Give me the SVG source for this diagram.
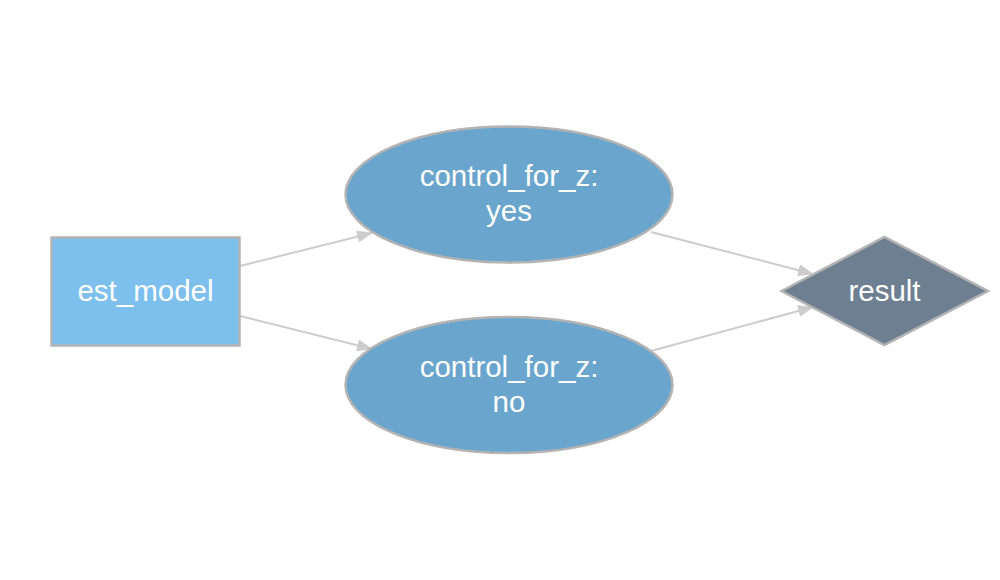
<svg xmlns="http://www.w3.org/2000/svg" width="1000" height="580" viewBox="0 0 1000 580">
<style>
.lbl{font-family:"Liberation Sans",Arial,Helvetica,sans-serif;font-size:29.5px;fill:#ffffff;text-anchor:middle}
.edge{stroke:#cccccc;stroke-width:2;fill:none}
.shape{stroke:#b3b3b3;stroke-width:2.5}
</style>
<defs>
<marker id="arr" markerUnits="userSpaceOnUse" markerWidth="16" markerHeight="12" refX="15" refY="6" orient="auto" viewBox="0 0 16 12">
<path d="M0,0 L16,6 L0,12 z" fill="#cccccc"/>
</marker>
</defs>
<rect width="1000" height="580" fill="#ffffff"/>
<g id="connectors">
<line class="edge" x1="240" y1="266" x2="372" y2="233" marker-end="url(#arr)"/>
<line class="edge" x1="240" y1="316" x2="372" y2="349" marker-end="url(#arr)"/>
<line class="edge" x1="651" y1="232" x2="813" y2="274" marker-end="url(#arr)"/>
<line class="edge" x1="651" y1="351" x2="813" y2="307" marker-end="url(#arr)"/>
</g>
<g id="est_model">
<rect class="shape" x="51.5" y="237.5" width="188" height="108" fill="#7dc0ee"/>
<text class="lbl" x="145.5" y="301">est_model</text>
</g>
<g id="control_yes">
<ellipse class="shape" cx="509" cy="194.5" rx="163.5" ry="68" fill="#69a5cc"/>
<text class="lbl" x="509" y="186">control_for_z:</text>
<text class="lbl" x="509" y="221">yes</text>
</g>
<g id="control_no">
<ellipse class="shape" cx="509" cy="385" rx="163.5" ry="68" fill="#69a5cc"/>
<text class="lbl" x="509" y="376.5">control_for_z:</text>
<text class="lbl" x="509" y="411.5">no</text>
</g>
<g id="result">
<polygon class="shape" points="781.5,291 884.5,237 988,291 884.5,345" fill="#6e7f92"/>
<text class="lbl" x="884.5" y="301">result</text>
</g>
</svg>
